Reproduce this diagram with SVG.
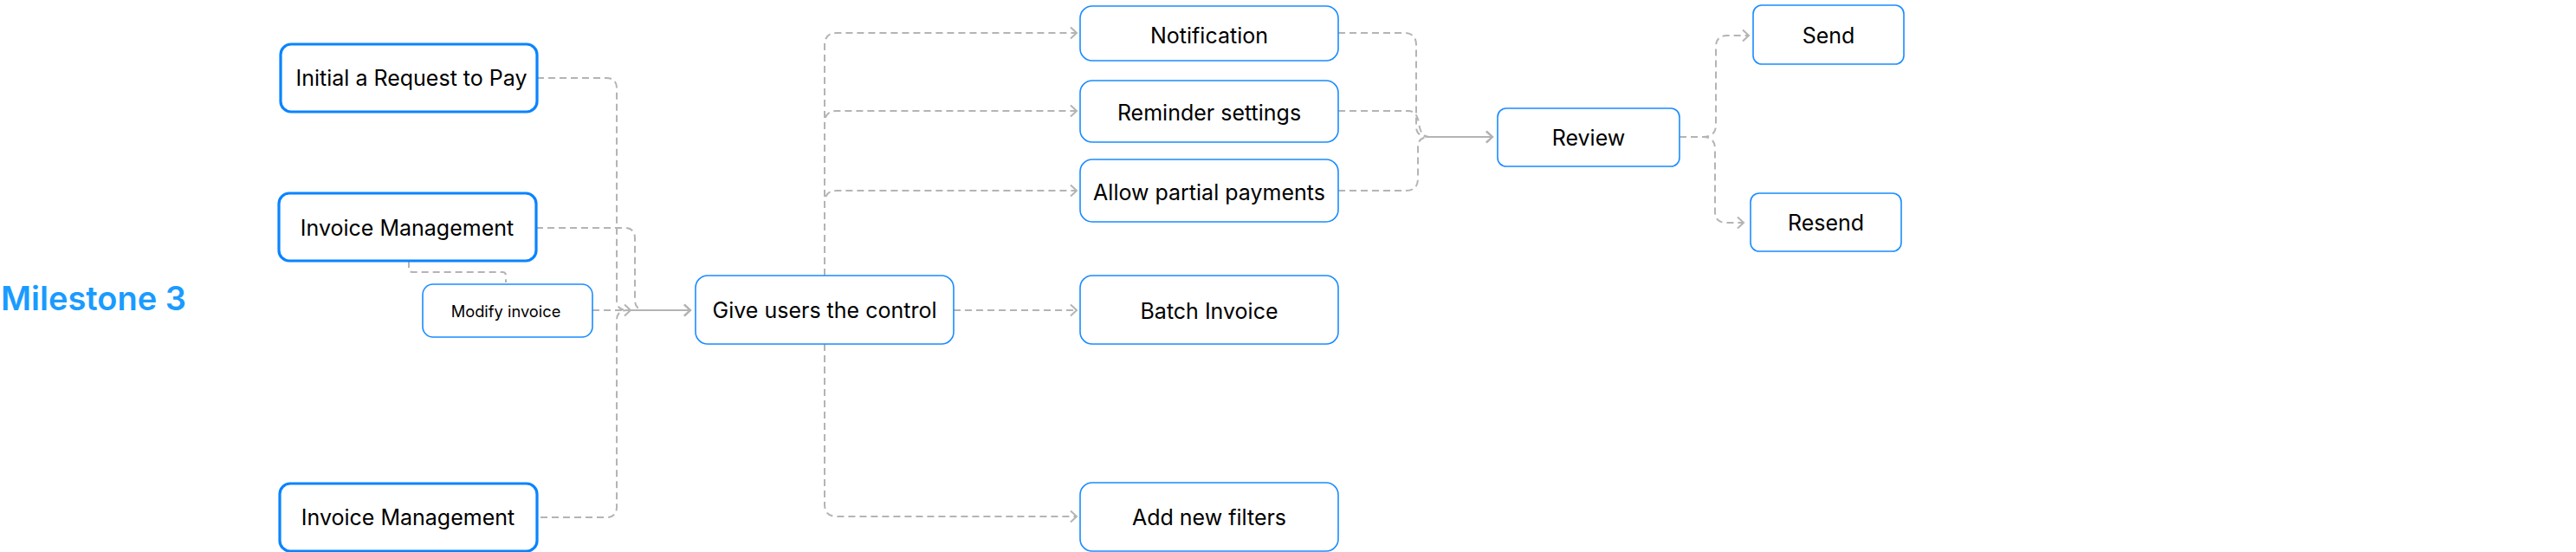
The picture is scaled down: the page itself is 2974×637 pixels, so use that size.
<svg xmlns="http://www.w3.org/2000/svg" width="2974" height="637" viewBox="0 0 2974 637">
<style>
.bx{fill:#fff;stroke:#1a8cff;stroke-width:1.6}
.bxt{fill:#fff;stroke:#0a84ff;stroke-width:3.2}
.t{font-family:Inter,"Liberation Sans",sans-serif;font-size:25px;font-weight:400;fill:#000;text-anchor:middle;dominant-baseline:central}
.ts{font-size:18.3px}
.c path{fill:none;stroke:#b4b4b4;stroke-width:2;stroke-dasharray:8 5}
.title{font-family:Inter,"Liberation Sans",sans-serif;font-size:38px;font-weight:600;fill:#1a9bff}
</style>
<defs>
<marker id="ah" markerUnits="userSpaceOnUse" markerWidth="20" markerHeight="20" refX="10" refY="8" orient="auto">
<path d="M3,1.5 L10,8 L3,14.5" fill="none" stroke="#b4b4b4" stroke-width="2"/>
</marker>
</defs>
<text class="title" x="1" y="358">Milestone 3</text>
<g class="c">
<path d="M684,358 H728" marker-end="url(#ah)"/>
<path d="M620,90 H700 Q712,90 712,102 V346 Q712,358 724,358 H797" marker-end="url(#ah)"/>
<path d="M624,597 H700 Q712,597 712,585 V370 Q712,358 724,358 H797" marker-end="url(#ah)"/>
<path d="M619,263 H721 Q733,263 733,275 V346 Q733,358 745,358 H797" marker-end="url(#ah)"/>
<path d="M472,301 V310 Q472,314 476,314 H580 Q584,314 584,318 V326"/>
<path d="M952,318 V52 Q952,38 966,38 H1243" marker-end="url(#ah)"/>
<path d="M952,318 V142 Q952,128 966,128 H1243" marker-end="url(#ah)"/>
<path d="M952,318 V234 Q952,220 966,220 H1243" marker-end="url(#ah)"/>
<path d="M1101,358 H1243" marker-end="url(#ah)"/>
<path d="M952,397 V582 Q952,596 966,596 H1243" marker-end="url(#ah)"/>
<path d="M1545,38 H1621 Q1635,38 1635,52 V146 Q1635,158 1650,158 H1723" marker-end="url(#ah)"/>
<path d="M1545,128 H1626 Q1636,128 1638,142 Q1640,158 1650,158 H1723" marker-end="url(#ah)"/>
<path d="M1545,220 H1623 Q1637,220 1637,206 V170 Q1637,158 1650,158 H1723" marker-end="url(#ah)"/>
<path d="M1939,158 H1966 Q1981,158 1981,144 V54 Q1981,41 1994,41 H2019" marker-end="url(#ah)"/>
<path d="M1939,158 H1966 Q1980,158 1980,172 V244 Q1980,257 1993,257 H2013" marker-end="url(#ah)"/>
</g>
<g id="n-initial"><rect class="bxt" x="324" y="51" width="296" height="78" rx="12"/><text class="t" x="475" y="90">Initial a Request to Pay</text></g>
<g id="n-invoice1"><rect class="bxt" x="322" y="223" width="297" height="78" rx="12"/><text class="t" x="470" y="263">Invoice Management</text></g>
<g id="n-modify"><rect class="bx" x="488" y="328" width="196" height="61" rx="12"/><text class="t ts" x="584" y="359">Modify invoice</text></g>
<g id="n-invoice2"><rect class="bxt" x="323" y="558" width="297" height="78" rx="12"/><text class="t" x="471" y="597">Invoice Management</text></g>
<g id="n-give"><rect class="bx" x="803" y="318" width="298" height="79" rx="14"/><text class="t" x="952" y="358">Give users the control</text></g>
<g id="n-notification"><rect class="bx" x="1247" y="7" width="298" height="63" rx="14"/><text class="t" x="1396" y="41">Notification</text></g>
<g id="n-reminder"><rect class="bx" x="1247" y="93" width="298" height="71" rx="14"/><text class="t" x="1396" y="130">Reminder settings</text></g>
<g id="n-partial"><rect class="bx" x="1247" y="184" width="298" height="72" rx="14"/><text class="t" x="1396" y="222">Allow partial payments</text></g>
<g id="n-batch"><rect class="bx" x="1247" y="318" width="298" height="79" rx="14"/><text class="t" x="1396" y="359">Batch Invoice</text></g>
<g id="n-filters"><rect class="bx" x="1247" y="557" width="298" height="79" rx="14"/><text class="t" x="1396" y="597">Add new filters</text></g>
<g id="n-review"><rect class="bx" x="1729" y="125" width="210" height="67" rx="10"/><text class="t" x="1834" y="159">Review</text></g>
<g id="n-send"><rect class="bx" x="2024" y="6" width="174" height="68" rx="10"/><text class="t" x="2111" y="41">Send</text></g>
<g id="n-resend"><rect class="bx" x="2021" y="223" width="174" height="67" rx="10"/><text class="t" x="2108" y="257">Resend</text></g>
</svg>
